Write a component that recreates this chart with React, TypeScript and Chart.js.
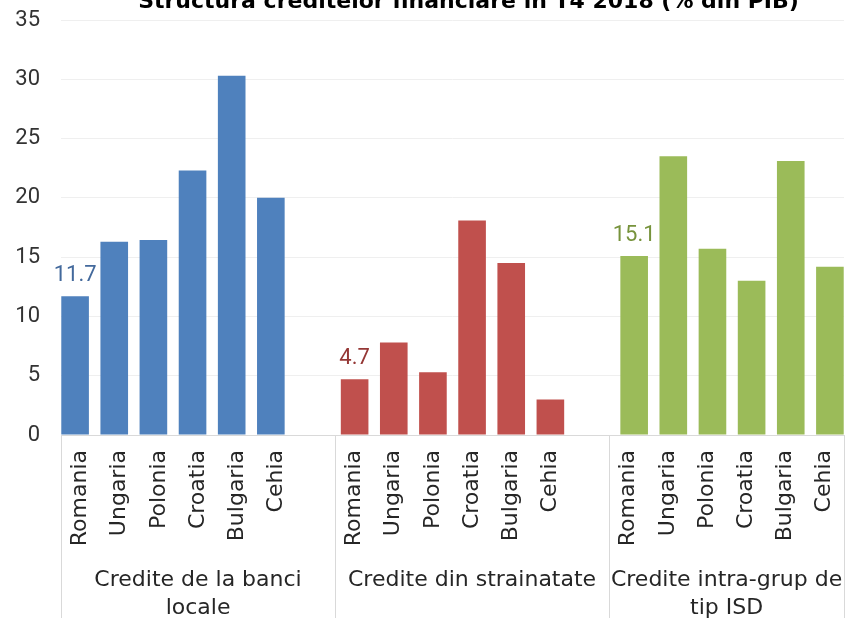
import React, { useEffect, useRef } from 'react';
import { Chart, registerables } from 'chart.js';

Chart.register(...registerables);

const TITLE = 'Structura creditelor financiare in T4 2018 (% din PIB)';
const countries = ['Romania', 'Ungaria', 'Polonia', 'Croatia', 'Bulgaria', 'Cehia'];
const groupLabels = [
  ['Credite de la banci', 'locale'],
  ['Credite din strainatate'],
  ['Credite intra-grup de', 'tip ISD'],
];
const localBankCredits = [11.7, 16.3, 16.45, 22.3, 30.3, 20.0];
const foreignCredits = [4.7, 7.8, 5.3, 18.1, 14.5, 3.0];
const intraGroupCredits = [15.1, 23.5, 15.7, 13.0, 23.1, 14.2];
const seriesColors = ['#4F81BD', '#C0504D', '#9BBB59'];
const labelColors = ['#43699C', '#953735', '#77933C'];
const labeledCountry = 'Romania';
const yMin = 0;
const yMax = 35;
const yStep = 5;

const seriesValues = [localBankCredits, foreignCredits, intraGroupCredits];

// multi-level category axis: each group is its countries plus an empty spacer slot (except the last)
const labels: string[] = [];
const groupRanges: { start: number; end: number }[] = [];
seriesValues.forEach((_, g) => {
  const start = labels.length;
  countries.forEach((c) => labels.push(c));
  if (g < seriesValues.length - 1) labels.push('');
  groupRanges.push({ start, end: labels.length });
});

const datasets = seriesValues.map((vals, g) => {
  const data: (number | null)[] = labels.map(() => null);
  vals.forEach((v, i) => {
    data[groupRanges[g].start + i] = v;
  });
  return {
    label: groupLabels[g].join(' '),
    data,
    backgroundColor: seriesColors[g],
    borderWidth: 0,
    categoryPercentage: 0.42,
    barPercentage: 5.04,
  };
});

const NUM_FONT = 'Roboto, "DejaVu Sans", sans-serif';
const TEXT_FONT = '"DejaVu Sans", sans-serif';

const groupAxisPlugin = {
  id: 'groupAxis',
  afterDraw(chart: any) {
    const { ctx, chartArea } = chart;
    const xs = chart.scales.x;
    ctx.save();
    ctx.strokeStyle = '#D9D9D9';
    ctx.lineWidth = 1;
    const bounds: number[] = [];
    groupRanges.forEach((r) => bounds.push(r.start));
    bounds.push(groupRanges[groupRanges.length - 1].end);
    bounds.forEach((b) => {
      const px = Math.round(xs.getPixelForValue(b - 0.5)) + 0.5;
      ctx.beginPath();
      ctx.moveTo(px, chartArea.bottom);
      ctx.lineTo(px, chart.height);
      ctx.stroke();
    });
    ctx.fillStyle = '#262626';
    ctx.font = `22px ${TEXT_FONT}`;
    ctx.textAlign = 'center';
    ctx.textBaseline = 'middle';
    groupRanges.forEach((r, g) => {
      const x0 = xs.getPixelForValue(r.start - 0.5);
      const x1 = xs.getPixelForValue(r.end - 0.5);
      const cx = (x0 + x1) / 2;
      groupLabels[g].forEach((line, li) => {
        ctx.fillText(line, cx, chartArea.bottom + 145 + li * 28);
      });
    });
    // title (partly above the visible area, as in the reference)
    ctx.fillStyle = '#000000';
    ctx.font = `bold 22px ${TEXT_FONT}`;
    ctx.textBaseline = 'alphabetic';
    ctx.fillText(TITLE, (chartArea.left + chartArea.right) / 2 + 16, chartArea.top - 12);
    ctx.restore();
  },
  afterDatasetsDraw(chart: any) {
    const { ctx } = chart;
    const idxInGroup = countries.indexOf(labeledCountry);
    ctx.save();
    ctx.font = `22px ${NUM_FONT}`;
    ctx.textAlign = 'center';
    ctx.textBaseline = 'alphabetic';
    seriesValues.forEach((vals, g) => {
      const meta = chart.getDatasetMeta(g);
      const el = meta.data[groupRanges[g].start + idxInGroup];
      if (!el) return;
      ctx.fillStyle = labelColors[g];
      ctx.fillText(vals[idxInGroup].toFixed(1), el.x, el.y - 15);
    });
    ctx.restore();
  },
};

export default function App() {
  const ref = useRef<HTMLCanvasElement | null>(null);
  useEffect(() => {
    if (!ref.current) return;
    const chart = new Chart(ref.current, {
      type: 'bar',
      data: { labels, datasets: datasets as any },
      options: {
        animation: false,
        responsive: false,
        devicePixelRatio: 1,
        layout: { padding: { top: 20, right: 2, bottom: 0, left: 0 } },
        plugins: {
          legend: { display: false },
          tooltip: { enabled: false },
          title: { display: false },
        },
        scales: {
          x: {
            offset: true,
            grid: { display: false, drawTicks: false },
            border: { display: true, color: '#D9D9D9', width: 1 },
            ticks: {
              autoSkip: false,
              minRotation: 90,
              maxRotation: 90,
              padding: 15,
              color: '#262626',
              font: { family: TEXT_FONT, size: 22 },
            },
            afterFit: (scale: any) => {
              scale.height = 183;
              scale.paddingLeft = 0;
              scale.paddingRight = 0;
            },
          },
          y: {
            min: yMin,
            max: yMax,
            grid: { color: '#EFEFEF', drawTicks: false },
            border: { display: false },
            ticks: {
              stepSize: yStep,
              padding: 21,
              color: '#333333',
              font: { family: NUM_FONT, size: 22 },
            },
            afterFit: (scale: any) => {
              scale.width = 61;
              scale.paddingTop = 0;
              scale.paddingBottom = 0;
            },
          },
        },
      },
      plugins: [groupAxisPlugin],
    });
    return () => chart.destroy();
  }, []);
  return (
    <div style={{ position: 'fixed', left: 0, top: 0, width: 846, height: 618, background: '#fff' }}>
      <canvas ref={ref} width={846} height={618} style={{ display: 'block' }} />
    </div>
  );
}
